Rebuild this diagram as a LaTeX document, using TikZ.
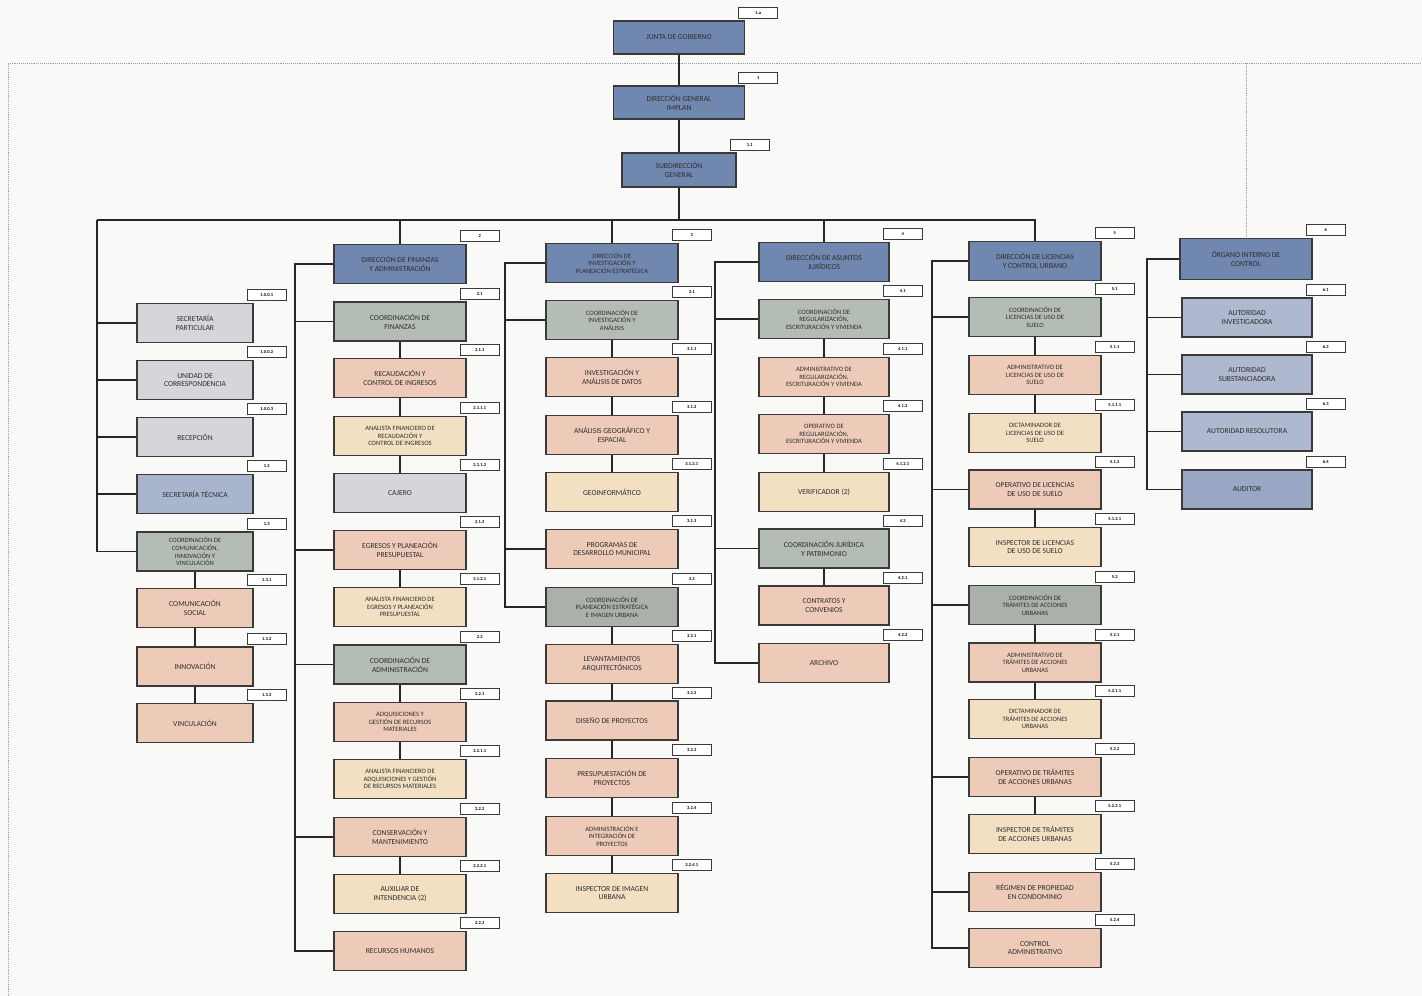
\documentclass[tikz,border=0pt]{standalone}
\usepackage{fontspec}
\setmainfont{Carlito}
\usepackage{tikz}
\usetikzlibrary{positioning,calc}
\definecolor{boxline}{HTML}{3A3A3A}
\definecolor{inktext}{HTML}{2E2E2E}
\definecolor{dirblue}{HTML}{7087B0}
\definecolor{staffblue}{HTML}{A9B5CC}
\definecolor{authblue}{HTML}{AEB9CF}
\definecolor{audblue}{HTML}{97A7C4}
\definecolor{coordgreen}{HTML}{B3BDB5}
\definecolor{subpink}{HTML}{EECBB8}
\definecolor{analbeige}{HTML}{F3E0C2}
\definecolor{plaingrey}{HTML}{D5D6D9}
\definecolor{paper}{HTML}{F9F9F7}

\begin{document}
\begin{tikzpicture}[x=1pt, y=-1pt,
    unitbox/.style={draw=boxline, line width=1.5pt, minimum width=132pt, minimum height=39pt, align=center, inner sep=1.5pt, text=inktext, font=\fontsize{7.6}{8.8}\selectfont},
    narrowbox/.style={unitbox, minimum width=116pt},
    topbox/.style={unitbox, fill=dirblue, minimum width=131pt, minimum height=33pt},
    dirbox/.style={unitbox, fill=dirblue},
    coordbox/.style={unitbox, fill=coordgreen},
    subbox/.style={unitbox, fill=subpink},
    analbox/.style={unitbox, fill=analbeige},
    greybox/.style={unitbox, fill=plaingrey},
    smalltext/.style={font=\fontsize{6.6}{7.6}\selectfont},
    tagbox/.style={draw=boxline, fill=white, line width=1.1pt, minimum width=39pt, minimum height=11pt, inner sep=0pt, font=\bfseries\fontsize{4.5}{5}\selectfont, text=black},
    link/.style={line width=1.6pt, draw=black!85},
    dotlink/.style={densely dotted, draw=gray!75, line width=0.9pt}
]
\useasboundingbox[fill=paper] (0,0) rectangle (1422,996);

% top of the chart
\node[topbox] (jg) at (679,37.5) {JUNTA DE GOBIERNO};
\node[topbox] (dg) at (679,102.5) {DIRECCIÓN GENERAL\\ IMPLAN};
\node[topbox, minimum width=114pt, minimum height=34pt] (sg) at (679,170) {SUBDIRECCIÓN\\ GENERAL};

% staff of the general office
\node[narrowbox, fill=plaingrey] (spa) at (195,323) {SECRETARÍA\\ PARTICULAR};
\node[narrowbox, fill=plaingrey] (uco) at (195,380) {UNIDAD DE\\ CORRESPONDENCIA};
\node[narrowbox, fill=plaingrey] (rcp) at (195,437) {RECEPCIÓN};
\node[narrowbox, fill=staffblue] (stc) at (195,494) {SECRETARÍA TÉCNICA};
\node[narrowbox, fill=coordgreen, smalltext] (cci) at (195,551.5) {COORDINACIÓN DE\\ COMUNICACIÓN,\\ INNOVACIÓN Y\\ VINCULACIÓN};
\node[narrowbox, fill=subpink] (csoc) at (195,608) {COMUNICACIÓN\\ SOCIAL};
\node[narrowbox, fill=subpink] (inn) at (195,666.5) {INNOVACIÓN};
\node[narrowbox, fill=subpink] (vin) at (195,723) {VINCULACIÓN};

% finance and administration
\node[dirbox] (dfa) at (400,264) {DIRECCIÓN DE FINANZAS\\ Y ADMINISTRACIÓN};
\node[coordbox] (cfi) at (400,321.5) {COORDINACIÓN DE\\ FINANZAS};
\node[subbox] (rci) at (400,378) {RECAUDACIÓN Y\\ CONTROL DE INGRESOS};
\node[analbox, smalltext] (arci) at (400,436) {ANALISTA FINANCIERO DE\\ RECAUDACIÓN Y\\ CONTROL DE INGRESOS};
\node[greybox] (caj) at (400,493) {CAJERO};
\node[subbox] (egr) at (400,550) {EGRESOS Y PLANEACIÓN\\ PRESUPUESTAL};
\node[analbox, smalltext] (aegr) at (400,607) {ANALISTA FINANCIERO DE\\ EGRESOS Y PLANEACIÓN\\ PRESUPUESTAL};
\node[coordbox] (cadm) at (400,664.5) {COORDINACIÓN DE\\ ADMINISTRACIÓN};
\node[subbox, smalltext] (adq) at (400,722) {ADQUISICIONES Y\\ GESTIÓN DE RECURSOS\\ MATERIALES};
\node[analbox, smalltext] (aadq) at (400,779) {ANALISTA FINANCIERO DE\\ ADQUISICIONES Y GESTIÓN\\ DE RECURSOS MATERIALES};
\node[subbox] (con) at (400,837) {CONSERVACIÓN Y\\ MANTENIMIENTO};
\node[analbox] (aux) at (400,894) {AUXILIAR DE\\ INTENDENCIA (2)};
\node[subbox] (rhu) at (400,951) {RECURSOS HUMANOS};

% research and strategic planning
\node[dirbox, smalltext] (dip) at (612,263) {DIRECCIÓN DE\\ INVESTIGACIÓN Y\\ PLANEACIÓN ESTRATÉGICA};
\node[coordbox, smalltext] (cia) at (612,320) {COORDINACIÓN DE\\ INVESTIGACIÓN Y\\ ANÁLISIS};
\node[subbox] (iad) at (612,377) {INVESTIGACIÓN Y\\ ANÁLISIS DE DATOS};
\node[subbox] (age) at (612,435) {ANÁLISIS GEOGRÁFICO Y\\ ESPACIAL};
\node[analbox] (geo) at (612,492) {GEOINFORMÁTICO};
\node[subbox] (prg) at (612,549) {PROGRAMAS DE\\ DESARROLLO MUNICIPAL};
\node[coordbox, fill=coordgreen!80!gray, smalltext] (cpe) at (612,607) {COORDINACIÓN DE\\ PLANEACIÓN ESTRATÉGICA\\ E IMAGEN URBANA};
\node[subbox] (lev) at (612,664) {LEVANTAMIENTOS\\ ARQUITECTÓNICOS};
\node[subbox] (dis) at (612,720.5) {DISEÑO DE PROYECTOS};
\node[subbox] (pre) at (612,778) {PRESUPUESTACIÓN DE\\ PROYECTOS};
\node[subbox, smalltext] (adm) at (612,836) {ADMINISTRACIÓN E\\ INTEGRACIÓN DE\\ PROYECTOS};
\node[analbox] (iim) at (612,893) {INSPECTOR DE IMAGEN\\ URBANA};

% legal affairs
\node[dirbox, minimum width=130pt] (daj) at (824,262) {DIRECCIÓN DE ASUNTOS\\ JURÍDICOS};
\node[coordbox, minimum width=130pt, smalltext] (crv) at (824,319) {COORDINACIÓN DE\\ REGULARIZACIÓN,\\ ESCRITURACIÓN Y VIVIENDA};
\node[subbox, minimum width=130pt, smalltext] (arv) at (824,377) {ADMINISTRATIVO DE\\ REGULARIZACIÓN,\\ ESCRITURACIÓN Y VIVIENDA};
\node[subbox, minimum width=130pt, smalltext] (orv) at (824,434) {OPERATIVO DE\\ REGULARIZACIÓN,\\ ESCRITURACIÓN Y VIVIENDA};
\node[analbox, minimum width=130pt] (ver) at (824,492) {VERIFICADOR (2)};
\node[coordbox, minimum width=130pt] (cjp) at (824,548.5) {COORDINACIÓN JURÍDICA\\ Y PATRIMONIO};
\node[subbox, minimum width=130pt] (cco) at (824,605.5) {CONTRATOS Y\\ CONVENIOS};
\node[subbox, minimum width=130pt] (arc) at (824,663) {ARCHIVO};

% licences and urban control
\node[dirbox] (dlc) at (1035,261) {DIRECCIÓN DE LICENCIAS\\ Y CONTROL URBANO};
\node[coordbox, smalltext] (clu) at (1035,317) {COORDINACIÓN DE\\ LICENCIAS DE USO DE\\ SUELO};
\node[subbox, smalltext] (alu) at (1035,375) {ADMINISTRATIVO DE\\ LICENCIAS DE USO DE\\ SUELO};
\node[analbox, smalltext] (dlu) at (1035,433) {DICTAMINADOR DE\\ LICENCIAS DE USO DE\\ SUELO};
\node[subbox] (olu) at (1035,489.5) {OPERATIVO DE LICENCIAS\\ DE USO DE SUELO};
\node[analbox] (ilu) at (1035,547) {INSPECTOR DE LICENCIAS\\ DE USO DE SUELO};
\node[coordbox, fill=coordgreen!80!gray, smalltext] (cta) at (1035,605) {COORDINACIÓN DE\\ TRÁMITES DE ACCIONES\\ URBANAS};
\node[subbox, smalltext] (ata) at (1035,662.5) {ADMINISTRATIVO DE\\ TRÁMITES DE ACCIONES\\ URBANAS};
\node[analbox, smalltext] (dta) at (1035,719) {DICTAMINADOR DE\\ TRÁMITES DE ACCIONES\\ URBANAS};
\node[subbox] (ota) at (1035,777) {OPERATIVO DE TRÁMITES\\ DE ACCIONES URBANAS};
\node[analbox] (ita) at (1035,834) {INSPECTOR DE TRÁMITES\\ DE ACCIONES URBANAS};
\node[subbox] (rpc) at (1035,892) {RÉGIMEN DE PROPIEDAD\\ EN CONDOMINIO};
\node[subbox] (cad) at (1035,948) {CONTROL\\ ADMINISTRATIVO};

% internal control
\node[dirbox, minimum width=132pt, minimum height=41pt] (oic) at (1246,259) {ÓRGANO INTERNO DE\\ CONTROL};
\node[unitbox, fill=authblue, minimum width=130pt] (ain) at (1247,317.5) {AUTORIDAD\\ INVESTIGADORA};
\node[unitbox, fill=authblue, minimum width=130pt] (asu) at (1247,374.5) {AUTORIDAD\\ SUBSTANCIADORA};
\node[unitbox, fill=authblue, minimum width=130pt] (are) at (1247,431.5) {AUTORIDAD RESOLUTORA};
\node[unitbox, fill=audblue, minimum width=130pt] (aud) at (1247,489.5) {AUDITOR};

% code tags
\foreach \n/\t in {jg/1.a, dg/1, sg/1.1,
    spa/1.0.0.1, uco/1.0.0.2, rcp/1.0.0.3, stc/1.2, cci/1.3, csoc/1.3.1, inn/1.3.2, vin/1.3.3,
    dfa/2, cfi/2.1, rci/2.1.1, arci/2.1.1.1, caj/2.1.1.2, egr/2.1.2, aegr/2.1.2.1, cadm/2.2,
    adq/2.2.1, aadq/2.2.1.1, con/2.2.2, aux/2.2.2.1, rhu/2.2.3,
    dip/3, cia/3.1, iad/3.1.1, age/3.1.2, geo/3.1.2.1, prg/3.1.3, cpe/3.2, lev/3.2.1,
    dis/3.2.2, pre/3.2.3, adm/3.2.4, iim/3.2.4.1,
    daj/4, crv/4.1, arv/4.1.1, orv/4.1.2, ver/4.1.2.1, cjp/4.2, cco/4.2.1, arc/4.2.2,
    dlc/5, clu/5.1, alu/5.1.1, dlu/5.1.1.1, olu/5.1.2, ilu/5.1.2.1, cta/5.2, ata/5.2.1,
    dta/5.2.1.1, ota/5.2.2, ita/5.2.2.1, rpc/5.2.3, cad/5.2.4,
    oic/6, ain/6.1, asu/6.2, are/6.3, aud/6.4}
  \node[tagbox, anchor=south west] (tag-\n) at ([xshift=-7pt,yshift=1.5pt]\n.north east) {\t};

% dotted line of the governing board
\coordinate (dotcorner) at (8,63);
\draw[dotlink] (8,996) -- (dotcorner) -- (1420,63);
\draw[dotlink] (dotcorner -| oic.north) -- (oic.north);

% main line
\draw[link] (jg) -- (dg);
\draw[link] (dg) -- (sg);
\coordinate (bus) at (679,220);
\coordinate (bus1) at (97,220);
\draw[link] (sg) -- (bus);
\draw[link] (bus1) -- (bus -| dlc.north);
\foreach \n in {dfa,dip,daj,dlc}
  \draw[link] (bus) -| (\n.north);
\foreach \n in {spa,uco,rcp,stc,cci}
  \draw[link] (bus1) |- (\n.west);

% trunks of each direction
\foreach \n in {cfi,egr,cadm,con,rhu}
  \draw[link] (dfa.west) -- ++(-38,0) |- (\n.west);
\foreach \n in {cia,prg,cpe}
  \draw[link] (dip.west) -- ++(-40,0) |- (\n.west);
\foreach \n in {crv,cjp,arc}
  \draw[link] (daj.west) -- ++(-43,0) |- (\n.west);
\foreach \n in {clu,olu,cta,ota,rpc,cad}
  \draw[link] (dlc.west) -- ++(-36,0) |- (\n.west);
\foreach \n in {ain,asu,are,aud}
  \draw[link] (oic.west) -- ++(-32,0) |- (\n.west);

% chains under each unit
\foreach \a/\b in {cci/csoc, csoc/inn, inn/vin,
    cfi/rci, rci/arci, arci/caj, egr/aegr, cadm/adq, adq/aadq, con/aux,
    cia/iad, iad/age, age/geo, cpe/lev, lev/dis, dis/pre, pre/adm, adm/iim,
    crv/arv, arv/orv, orv/ver, cjp/cco,
    clu/alu, alu/dlu, olu/ilu, cta/ata, ata/dta, ota/ita}
  \draw[link] (\a) -- (\b);

\end{tikzpicture}
\end{document}
